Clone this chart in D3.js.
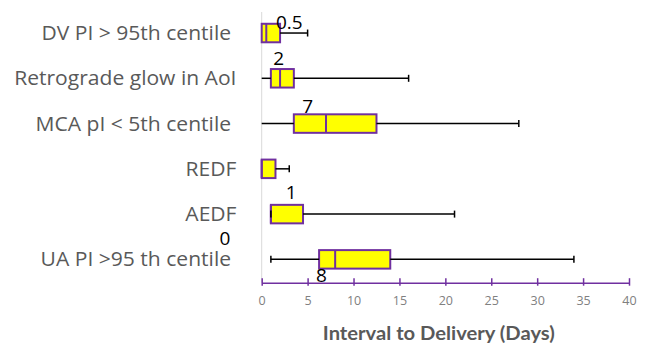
<!DOCTYPE html>
<html>
<head>
<meta charset="utf-8">
<script src="https://cdn.jsdelivr.net/npm/d3@7"></script>
<style>
  html, body { margin: 0; padding: 0; background: #fff; }
  svg { display: block; }
  text { white-space: pre; }
</style>
</head>
<body>
<svg id="chart" width="646" height="347"></svg>
<script>
// ---- data ----
const categories = ["DV PI > 95th centile ", "Retrograde glow in AoI", "MCA pI < 5th centile ", "REDF", "AEDF", "UA PI >95 th centile "];
const mins    = [0,   0,   0,    0,   1,   1];
const q1s     = [0,   1,   3.5,  0,   1,   6.25];
const medians = [0.5, 2,   7,    0,   1,   8];
const q3s     = [2,   3.5, 12.5, 1.5, 4.5, 14];
const maxs    = [5,   16,  28,   3,   21,  34];
const valueLabels = [["0.5"], ["2"], ["7"], [], ["1"], ["0", "8"]];
const xTicks = [0, 5, 10, 15, 20, 25, 30, 35, 40];
const xTitle = "Interval to Delivery (Days)";

// ---- drawing ----
const svg = d3.select("#chart");
const purple = "#7030A0";
const x = d3.scaleLinear().domain([0, 40]).range([261.7, 629]);
const y = d3.scaleBand().domain(categories).range([10.4, 282]).padding(0);
const boxH = 18.5;

const rows = categories.map((c, i) => ({
  cat: c, min: mins[i], q1: q1s[i], med: medians[i], q3: q3s[i], max: maxs[i], labels: valueLabels[i]
}));
const cy = d => y(d.cat) + y.bandwidth() / 2;

// vertical axis line
svg.append("line")
  .attr("x1", x(0)).attr("x2", x(0))
  .attr("y1", 12).attr("y2", 282.7)
  .attr("stroke", "#d9d9d9").attr("stroke-width", 1);

// category labels (uniform horizontal stretch to mimic original font's width)
const catText = svg.append("g").selectAll("text").data(rows).enter().append("text")
  .attr("x", 236.5)
  .attr("y", d => cy(d) + 7)
  .attr("text-anchor", "end")
  .attr("font-family", "'Open Sans', Lato, sans-serif")
  .attr("font-size", 19.5)
  .attr("fill", "#595959")
  .text(d => d.cat);
catText.each(function() {
  const w = this.getComputedTextLength();
  d3.select(this).attr("textLength", w * 1.08).attr("lengthAdjust", "spacingAndGlyphs");
});

// boxes
const g = svg.append("g");
g.selectAll("rect.box").data(rows).enter().append("rect")
  .attr("class", "box")
  .attr("x", d => x(d.q1))
  .attr("y", d => cy(d) - boxH / 2)
  .attr("width", d => x(d.q3) - x(d.q1))
  .attr("height", boxH)
  .attr("fill", "#FFFF00")
  .attr("stroke", purple)
  .attr("stroke-width", 2);
g.selectAll("line.med").data(rows).enter().append("line")
  .attr("x1", d => x(d.med)).attr("x2", d => x(d.med))
  .attr("y1", d => cy(d) - boxH / 2).attr("y2", d => cy(d) + boxH / 2)
  .attr("stroke", purple).attr("stroke-width", 2);

// whiskers
g.selectAll("line.wlo").data(rows.filter(d => d.q1 > d.min)).enter().append("line")
  .attr("x1", d => x(d.min)).attr("x2", d => x(d.q1))
  .attr("y1", cy).attr("y2", cy)
  .attr("stroke", "#000").attr("stroke-width", 1.5);
g.selectAll("line.whi").data(rows.filter(d => d.max > d.q3)).enter().append("line")
  .attr("x1", d => x(d.q3)).attr("x2", d => x(d.max))
  .attr("y1", cy).attr("y2", cy)
  .attr("stroke", "#000").attr("stroke-width", 1.5);
g.selectAll("line.caplo").data(rows.filter(d => d.min > 0)).enter().append("line")
  .attr("x1", d => x(d.min)).attr("x2", d => x(d.min))
  .attr("y1", d => cy(d) - 3.5).attr("y2", d => cy(d) + 3.5)
  .attr("stroke", "#000").attr("stroke-width", 1.5);
g.selectAll("line.caphi").data(rows).enter().append("line")
  .attr("x1", d => x(d.max)).attr("x2", d => x(d.max))
  .attr("y1", d => cy(d) - 3.5).attr("y2", d => cy(d) + 3.5)
  .attr("stroke", "#000").attr("stroke-width", 1.5);

// value labels (manually placed in original chart)
const placement = {
  "0": [[3.0, -4]],
  "1": [[1.85, -13]],
  "2": [[5.0, -11]],
  "4": [[3.2, -15]],
  "5": [[-4.0, -14], [6.5, 23]]
};
rows.forEach((d, i) => {
  d.labels.forEach((t, j) => {
    const p = placement[i][j];
    svg.append("text")
      .attr("x", x(p[0]))
      .attr("y", cy(d) + p[1])
      .attr("text-anchor", "middle")
      .attr("font-family", "'Open Sans', Lato, sans-serif")
      .attr("font-size", 19)
      .attr("fill", "#000")
      .text(t);
  });
});

// x axis
const axis = svg.append("g")
  .attr("transform", "translate(0,282.7)")
  .call(d3.axisBottom(x).tickValues(xTicks).tickSize(3).tickPadding(10).tickSizeOuter(0));
axis.select(".domain").attr("stroke", purple).attr("stroke-width", 1.5);
axis.selectAll(".tick line").attr("stroke", purple).attr("stroke-width", 1.5).attr("y1", -4.5);
axis.selectAll(".tick text")
  .attr("font-family", "'Open Sans', Lato, sans-serif")
  .attr("font-size", 12.5)
  .attr("fill", "#808080");

// title
svg.append("text")
  .attr("x", 438.8).attr("y", 340)
  .attr("text-anchor", "middle")
  .attr("font-family", "Lato, 'Open Sans', sans-serif")
  .attr("font-weight", "bold")
  .attr("font-size", 18)
  .attr("fill", "#595959")
  .attr("textLength", 232)
  .attr("lengthAdjust", "spacingAndGlyphs")
  .text(xTitle);
</script>
</body>
</html>
